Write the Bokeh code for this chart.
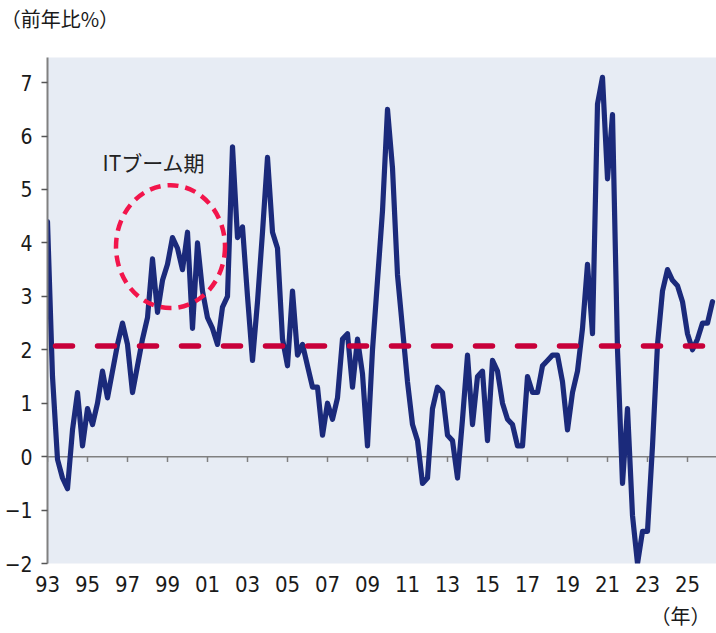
from bokeh.plotting import figure
from bokeh.models import FixedTicker, Span, Label, Range1d, LinearAxis
from bokeh.embed import file_html
from bokeh.resources import INLINE

# ---------------- data ----------------
START_YEAR = 1993  # first quarter of the series (1993 Q1)
values = [
    4.4, 1.5, -0.05, -0.4, -0.6, 0.5, 1.2, 0.2, 0.9, 0.6,
    1.0, 1.6, 1.1, 1.6, 2.1, 2.5, 2.1, 1.2, 1.7, 2.2,
    2.6, 3.7, 2.7, 3.3, 3.6, 4.1, 3.9, 3.5, 4.2, 2.4,
    4.0, 3.1, 2.6, 2.4, 2.1, 2.8, 3.0, 5.8, 4.1, 4.3,
    3.0, 1.8, 2.9, 4.2, 5.6, 4.2, 3.9, 2.2, 1.7, 3.1,
    1.9, 2.1, 1.7, 1.3, 1.3, 0.4, 1.0, 0.7, 1.1, 2.2,
    2.3, 1.3, 2.2, 1.55, 0.2, 2.0, 3.3, 4.6, 6.5, 5.4,
    3.4, 2.4, 1.4, 0.6, 0.3, -0.5, -0.4, 0.9, 1.3, 1.2,
    0.4, 0.3, -0.4, 0.7, 1.9, 0.6, 1.5, 1.6, 0.3, 1.8,
    1.6, 1.0, 0.7, 0.6, 0.2, 0.2, 1.5, 1.2, 1.2, 1.7,
    1.8, 1.9, 1.9, 1.4, 0.5, 1.2, 1.6, 2.4, 3.6, 2.3,
    6.6, 7.1, 5.2, 6.4, 2.0, -0.5, 0.9, -1.1, -2.0, -1.4,
    -1.4, 0.2, 2.1, 3.1, 3.5, 3.3, 3.2, 2.9, 2.3, 2.0,
    2.2, 2.5, 2.5, 2.9,
]
quarters = [START_YEAR + 0.25 * i for i in range(len(values))]
average = 2.07

x_tick_years = [1993, 1995, 1997, 1999, 2001, 2003, 2005, 2007, 2009,
                2011, 2013, 2015, 2017, 2019, 2021, 2023, 2025]
x_tick_labels = ["93", "95", "97", "99", "01", "03", "05", "07", "09",
                 "11", "13", "15", "17", "19", "21", "23", "25"]
y_ticks = [-2, -1, 0, 1, 2, 3, 4, 5, 6, 7]
y_tick_labels = ["\u22122", "\u22121", "0", "1", "2", "3", "4", "5", "6", "7"]

title_text = "（前年比%）"
unit_text = "（年）"
note_text = "ITブーム期"

# ---------------- styles / layout ----------------
NUM_FONT = "'Liberation Sans Narrow', 'DejaVu Sans Condensed', 'Roboto Condensed', sans-serif"
JP_FONT = "Noto Sans CJK JP"
NAVY = "#1b2a7b"
CRIMSON = "#c8003a"
CIRCLE_RED = "#f2154b"
BG = "#e7ecf4"
AXIS_GRAY = "#808080"
TEXT = "#1a1a1a"

X_START, X_END = 1993.0, 2026.45
Y_START, Y_END = -2.0, 7.47
TITLE_POS = 1993.6    # horizontal anchor of the top-left caption
UNIT_POS = 2025.25    # horizontal anchor of the bottom-right caption

p = figure(width=716, height=633, output_backend="svg", toolbar_location=None,
           x_range=Range1d(X_START, X_END), y_range=Range1d(Y_START, Y_END),
           min_border_left=47, min_border_right=0, min_border_top=57,
           min_border_bottom=70)
p.background_fill_color = BG
p.border_fill_color = "white"
p.outline_line_color = None
p.xgrid.grid_line_color = None
p.ygrid.grid_line_color = None

# y axis
ya = p.yaxis[0]
ya.ticker = FixedTicker(ticks=y_ticks)
ya.major_label_overrides = {t: l for t, l in zip(y_ticks, y_tick_labels)}
ya.axis_line_color = AXIS_GRAY
ya.axis_line_width = 2
ya.major_tick_line_color = "#555555"
ya.major_tick_line_width = 1.5
ya.major_tick_in = 0
ya.major_tick_out = 6
ya.minor_tick_line_color = None
ya.major_label_standoff = 9
ya.major_label_text_font = NUM_FONT
ya.major_label_text_font_size = "21px"
ya.major_label_text_color = TEXT

# x axis: labels only (axis line drawn at zero)
xa = p.xaxis[0]
xa.ticker = FixedTicker(ticks=x_tick_years)
xa.major_label_overrides = {t: l for t, l in zip(x_tick_years, x_tick_labels)}
xa.axis_line_color = None
xa.major_tick_line_color = None
xa.major_tick_in = 0
xa.major_tick_out = 0
xa.minor_tick_line_color = None
xa.major_label_standoff = 12
xa.major_label_text_font = NUM_FONT
xa.major_label_text_font_size = "22px"
xa.major_label_text_color = TEXT


def caption_axis(pos, text, standoff):
    return LinearAxis(ticker=FixedTicker(ticks=[pos]),
                      major_label_overrides={pos: text},
                      axis_line_color=None, major_tick_line_color=None,
                      minor_tick_line_color=None, major_tick_in=0,
                      major_tick_out=0, minor_tick_in=0, minor_tick_out=0,
                      major_label_standoff=standoff,
                      major_label_text_font=JP_FONT,
                      major_label_text_font_size="20px",
                      major_label_text_color=TEXT)


# caption above the plot: (前年比%) ; caption below the x labels: (年)
p.add_layout(caption_axis(TITLE_POS, title_text, 25), "above")
p.add_layout(caption_axis(UNIT_POS, unit_text, 6), "below")

# zero line with ticks
p.add_layout(Span(location=0, dimension="width", line_color=AXIS_GRAY,
                  line_width=1.5, level="underlay"))
p.segment(x0=x_tick_years, y0=[0] * len(x_tick_years),
          x1=x_tick_years, y1=[-0.1] * len(x_tick_years),
          line_color=AXIS_GRAY, line_width=1.5, level="underlay")

# main series
p.line(quarters, values, line_color=NAVY, line_width=5.2, line_join="round",
       line_cap="round")

# average dashed line
p.add_layout(Span(location=average, dimension="width", line_color=CRIMSON,
                  line_width=5.5, line_dash="17 25", line_dash_offset=34,
                  line_cap="round"))

# IT boom circle + note
p.ellipse(x=[1999.15], y=[3.93], width=5.45, height=2.30, fill_color=None,
          line_color=CIRCLE_RED, line_width=4.5, line_dash="11 7")
p.add_layout(Label(x=1995.75, y=5.52, text=note_text, text_font=JP_FONT,
                   text_font_size="21px", text_color="#222222",
                   text_baseline="middle", text_align="left"))

open("out.html", "w").write(file_html(p, INLINE))
